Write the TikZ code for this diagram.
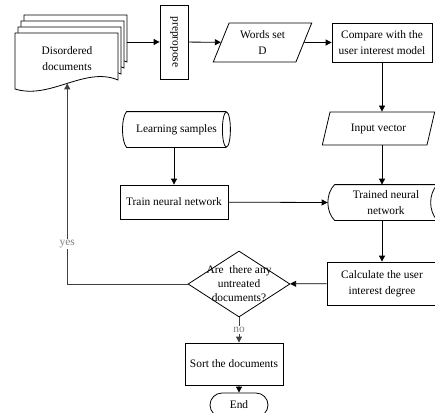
\documentclass[tikz,border=0pt]{standalone}
\usepackage{fontspec}
\setmainfont{Liberation Serif}
\usetikzlibrary{shapes.geometric, shapes.misc, arrows.meta}

\begin{document}
\begin{tikzpicture}[x=1pt, y=-1pt, line width=0.8pt, >={Triangle[length=6pt, width=6pt]},
    every node/.style={font=\fontsize{11.4}{16}\selectfont, align=center},
    box/.style={draw, rectangle, inner sep=0pt},
    io/.style={draw, trapezium, trapezium left angle=66, trapezium right angle=114, trapezium stretches=true, inner sep=0pt},
    lbl/.style={fill=white, text=gray, inner sep=1pt}]
    \useasboundingbox (0,0) rectangle (435,412);
    \clip (0,0) rectangle (435,412);

    % stack of disordered documents
    \foreach \dx/\dy in {9/-18, 6/-12, 3/-6}
        \draw[fill=white, shift={(\dx,\dy)}] (15,33) -- (118,33) -- (118,80) .. controls (85,66) and (50,100) .. (15,89) -- cycle;
    \draw[fill=white] (15,33) -- (118,33) -- (118,80) .. controls (85,66) and (50,100) .. coordinate[pos=0.5] (docin) (15,89) -- cycle;
    \node (docs) at (67,59) {Disordered\\documents};
    \coordinate (docout) at (127,42);

    % top row
    \node[box, rotate=-90, minimum width=74pt, minimum height=28pt] (prep) at (174,42) {prepropose};
    \node[io, minimum width=99pt, minimum height=39pt] (words) at (262.5,42.5) {Words set\\D};
    \node[box, minimum width=100pt, minimum height=39pt] (compare) at (382,42.5) {Compare with the\\user interest model};

    % right column
    \node[io, minimum width=113pt, minimum height=33pt] (input) at (378.5,128.5) {Input vector};
    \node[minimum width=102pt, minimum height=35pt, inner sep=0pt] (trained) at (386,202.5) {Trained neural\\network};
    \draw (trained.north west) -- (trained.north east) .. controls +(-9,9) and +(-9,-9) .. (trained.south east)
        -- (trained.south west) .. controls +(-9,-9) and +(-9,9) .. (trained.north west);
    \node[box, minimum width=110pt, minimum height=43pt] (calc) at (382,283.5) {Calculate the user\\interest degree};

    % left column
    \node[minimum width=99pt, minimum height=35pt, inner sep=0pt] (samples) at (176.5,129.5) {Learning samples};
    \draw (samples.north east) -- (samples.north west) .. controls +(-5.5,6) and +(-5.5,-6) .. (samples.south west)
        -- (samples.south east);
    \draw (samples.east) ellipse (4 and 17.5);
    \node[box, minimum width=108pt, minimum height=34pt] (train) at (174,202) {Train neural network};

    % decision and end
    \node[draw, diamond, minimum width=102pt, minimum height=66pt, inner sep=0pt] (check) at (239,284) {};
    \node[font=\fontsize{11.4}{14}\selectfont] (checktext) at (check) {Are\ \ there any\\untreated\\documents?};
    \node[box, minimum width=98pt, minimum height=42pt] (sort) at (234,364) {Sort the documents};
    \node[draw, rounded rectangle, minimum width=58pt, minimum height=24pt, inner sep=0pt] (stop) at (239,405) {End};

    % connectors
    \draw[->] (docout) -- (prep);
    \draw[->] (prep) -- (words);
    \draw[->] (words) -- (compare);
    \draw[->] (compare) -- (compare |- input.north);
    \draw[->] (compare |- input.south) -- (compare |- trained.north);
    \draw[->] (compare |- trained.south) -- (compare |- calc.north);
    \draw[->] (train |- samples.south) -- (train);
    \draw[->] (train) -- ([xshift=-7pt]trained.west);
    \draw[->] (calc) -- (check);
    \draw[->, black!75] (check) -| node[lbl, pos=0.6] (yes) {yes} (docin);
    \draw[->, black!75] (check) -- node[lbl] (no) {no} (check |- sort.north);
    \draw[->] (check |- sort.south) -- (stop);
\end{tikzpicture}
\end{document}
